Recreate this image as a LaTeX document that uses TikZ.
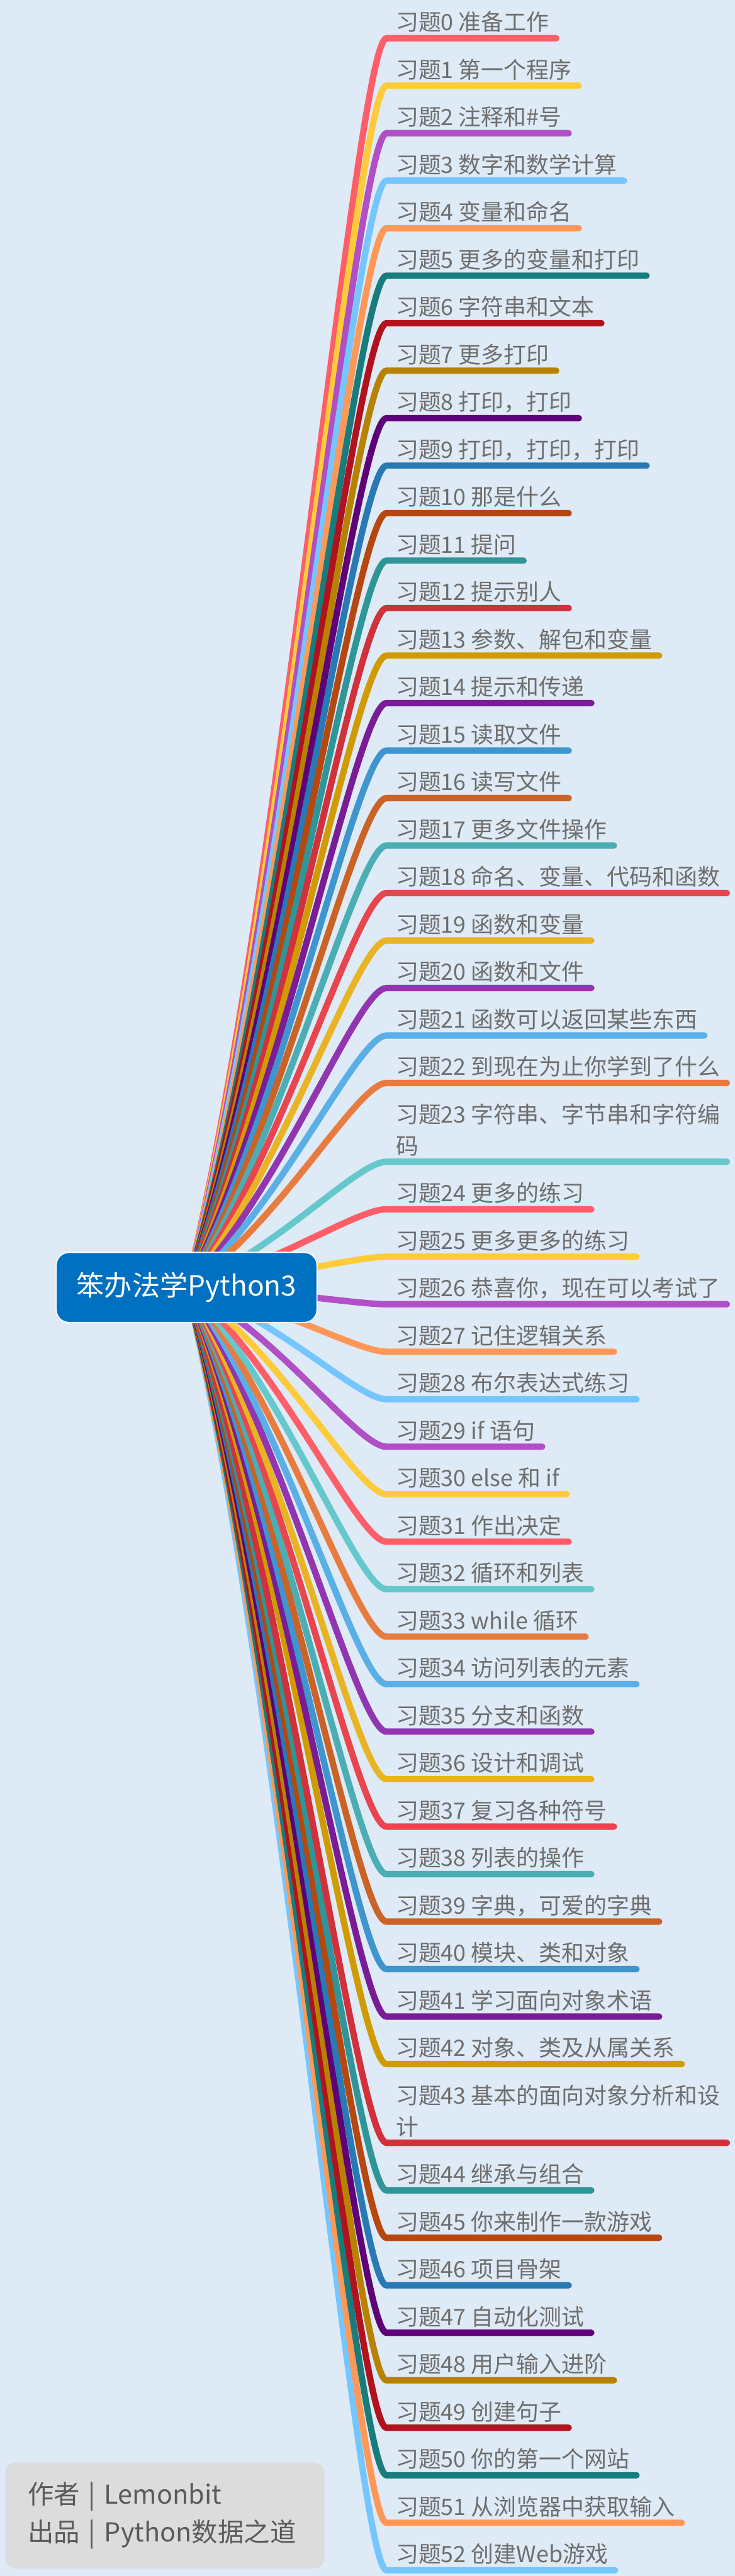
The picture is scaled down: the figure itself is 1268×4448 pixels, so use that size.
\documentclass[tikz,border=0pt]{standalone}
\usepackage{fontspec}
\setmainfont{Noto Sans CJK SC}
\usetikzlibrary{calc}
\definecolor{paper}{HTML}{DEEAF5}
\definecolor{topicblue}{HTML}{0070C0}
\definecolor{leafgray}{HTML}{6E6E6E}
\definecolor{notegray}{HTML}{DCDCDC}
\definecolor{notetext}{HTML}{5A5A5A}
\definecolor{c0}{HTML}{FF5E69}
\definecolor{c1}{HTML}{FFCB3A}
\definecolor{c2}{HTML}{B04FC6}
\definecolor{c3}{HTML}{75C6FF}
\definecolor{c4}{HTML}{FF9857}
\definecolor{c5}{HTML}{187B7C}
\definecolor{c6}{HTML}{B2121E}
\definecolor{c7}{HTML}{B68200}
\definecolor{c8}{HTML}{5F0078}
\definecolor{c9}{HTML}{2979B4}
\definecolor{c10}{HTML}{B5470F}
\definecolor{c11}{HTML}{2E9599}
\definecolor{c12}{HTML}{D2303A}
\definecolor{c13}{HTML}{D09B00}
\definecolor{c14}{HTML}{7A1C96}
\definecolor{c15}{HTML}{3F95CD}
\definecolor{c16}{HTML}{CB6226}
\definecolor{c17}{HTML}{4BAEB4}
\definecolor{c18}{HTML}{E9454F}
\definecolor{c19}{HTML}{E9B424}
\definecolor{c20}{HTML}{9135B0}
\definecolor{c21}{HTML}{5AAFE6}
\definecolor{c22}{HTML}{E87C3F}
\definecolor{c23}{HTML}{65C8CC}
\pgfdeclarelayer{bg}
\pgfdeclarelayer{links}
\pgfsetlayers{bg,links,main}

\begin{document}
\begin{tikzpicture}[x=1pt,y=-1pt,
  topic/.style={fill=topicblue,draw=white,line width=2pt,rounded corners=22pt,
    minimum width=450pt,minimum height=121pt,text=white,font=\fontsize{48}{58}\selectfont},
  leaf/.style={anchor=south west,inner sep=0pt,align=left,text depth=4pt,
    text=leafgray,font=\fontsize{39}{54}\selectfont},
  twig/.style={draw=#1,line width=11pt,line cap=round},
  note/.style={fill=notegray,rounded corners=18pt,minimum height=183pt,text width=473pt,
    inner xsep=39pt,align=left,text=notetext,font=\fontsize{45}{65}\selectfont}]
\begin{pgfonlayer}{bg}
\fill[paper] (0,0) rectangle (1268,4448);
\end{pgfonlayer}
\node[topic] (root) at (322,2223) {笨办法学Python3};
% exercises
\foreach \i/\y/\txt in {0/66/准备工作, 1/148/第一个程序, 2/230/注释和\#号, 3/312/数字和数学计算,
  4/394/变量和命名, 5/476/更多的变量和打印, 6/558/字符串和文本, 7/640/更多打印,
  8/722/打印，打印, 9/804/打印，打印，打印, 10/886/那是什么, 11/968/提问,
  12/1050/提示别人, 13/1132/参数、解包和变量, 14/1214/提示和传递, 15/1296/读取文件,
  16/1378/读写文件, 17/1460/更多文件操作, 18/1542/命名、变量、代码和函数, 19/1624/函数和变量,
  20/1706/函数和文件, 21/1788/函数可以返回某些东西, 22/1870/到现在为止你学到了什么,
  23/2006/字符串、字节串和字符编\\码, 24/2088/更多的练习, 25/2170/更多更多的练习,
  26/2252/恭喜你，现在可以考试了, 27/2334/记住逻辑关系, 28/2416/布尔表达式练习,
  29/2498/if 语句, 30/2580/else 和 if, 31/2662/作出决定, 32/2744/循环和列表,
  33/2826/while 循环, 34/2908/访问列表的元素, 35/2990/分支和函数, 36/3072/设计和调试,
  37/3154/复习各种符号, 38/3236/列表的操作, 39/3318/字典，可爱的字典, 40/3400/模块、类和对象,
  41/3482/学习面向对象术语, 42/3564/对象、类及从属关系, 43/3700/基本的面向对象分析和设\\计,
  44/3782/继承与组合, 45/3864/你来制作一款游戏, 46/3946/项目骨架, 47/4028/自动化测试,
  48/4110/用户输入进阶, 49/4192/创建句子, 50/4274/你的第一个网站, 51/4356/从浏览器中获取输入,
  52/4438/创建Web游戏}
  \node[leaf] (t\i) at (683,\y-9) {习题\i\ \txt};
% curves, far ones first
\begin{pgfonlayer}{links}
\foreach \i/\c in {0/c0, 1/c1, 2/c2, 3/c3, 4/c4, 5/c5, 6/c6, 7/c7, 8/c8, 9/c9, 10/c10,
  11/c11, 12/c12, 13/c13, 14/c14, 15/c15, 16/c16, 17/c17, 18/c18, 19/c19, 20/c20,
  21/c21, 22/c22, 23/c23, 24/c0, 25/c1, 26/c2,
  52/c3, 51/c4, 50/c5, 49/c6, 48/c7, 47/c8, 46/c9, 45/c10, 44/c11, 43/c12, 42/c13,
  41/c14, 40/c15, 39/c16, 38/c17, 37/c18, 36/c19, 35/c20, 34/c21, 33/c22, 32/c23,
  31/c0, 30/c1, 29/c2, 28/c3, 27/c4}
  \draw[twig=\c] (root.center)
    .. controls ($(root.center)!.3!(t\i.south west)+(52,0)$) and ($(t\i.south west)+(-67,9)$)
    .. ($(t\i.south west)+(-16,9)$) -- ($(t\i.south east)+(12,9)$);
\end{pgfonlayer}
\node[note] (credit) at (284.5,4343.5) {作者 | Lemonbit\\出品 | Python数据之道};
\end{tikzpicture}
\end{document}
